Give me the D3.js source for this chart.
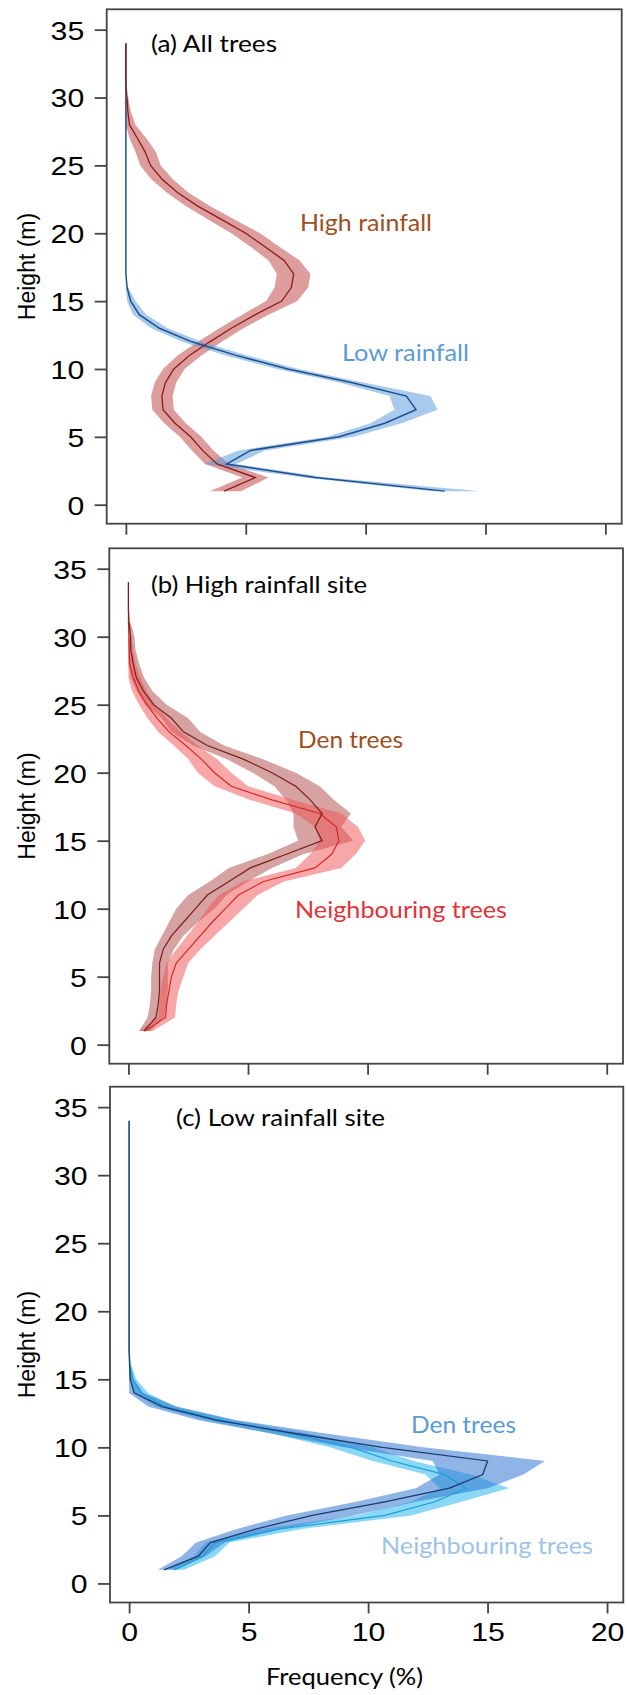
<!DOCTYPE html>
<html><head><meta charset="utf-8">
<script src="https://cdn.jsdelivr.net/npm/d3@7"></script>
<style>body{margin:0;background:#fff}</style>
</head><body>
<svg id="chart" width="627" height="1695"></svg>
<script>
// ---------- data (height in m, frequency in %) ----------
const heights = [1,2,3,4,5,6,7,8,9,10,11,12,13,14,15,16,17,18,19,20,21,22,23,24,25,26,27,28,29,30,31,32,33,34];
const xTicks = [0,5,10,15,20];
const yTicks = [0,5,10,15,20,25,30,35];

// (a) All trees
const aHighMean = [4.1,5.4,3.8,3.2,2.7,2.05,1.55,1.5,1.65,2.0,2.65,3.5,4.4,5.4,6.5,6.9,7.0,6.6,5.8,5.0,4.0,3.0,2.15,1.5,1.03,0.8,0.48,0.15,0.08,0.05,0,0,0,0];
const aHighLo   = [3.5,4.85,3.3,2.75,2.25,1.6,1.1,1.05,1.2,1.55,2.15,3.0,3.9,4.85,5.85,6.2,6.3,5.95,5.2,4.4,3.45,2.5,1.7,1.05,0.6,0.4,0.15,0,0,0,0,0,0,0];
const aHighHi   = [4.8,5.95,4.3,3.65,3.15,2.5,2.0,1.95,2.1,2.45,3.15,4.0,4.9,5.95,7.15,7.6,7.7,7.25,6.4,5.6,4.55,3.5,2.6,1.95,1.45,1.25,0.85,0.4,0.2,0.1,0,0,0,0];
const aLowMean  = [13.3,7.9,4.2,5.2,8.9,10.8,12.1,11.7,9.4,6.75,4.6,2.75,1.4,0.56,0.2,0.05,0,0,0,0,0,0,0,0,0,0,0,0,0,0,0,0,0,0];
const aLowLo    = [12.8,7.4,3.25,4.7,8.4,10.2,11.2,11.0,8.9,6.3,4.15,2.35,1.05,0.3,0.05,0,0,0,0,0,0,0,0,0,0,0,0,0,0,0,0,0,0,0];
const aLowHi    = [14.8,8.4,4.6,5.8,9.5,11.5,13.0,12.7,9.9,7.2,5.05,3.15,1.75,0.85,0.4,0.1,0,0,0,0,0,0,0,0,0,0,0,0,0,0,0,0,0,0];

// (b) High rainfall site
const bDenMean = [0.65,1.15,1.25,1.3,1.3,1.3,1.45,1.8,2.3,2.8,3.3,4.2,5.1,6.6,8.1,7.8,8.1,7.6,7.0,6.0,4.8,3.3,2.3,1.8,1.05,0.63,0.33,0.2,0.1,0.09,0.03,0,0,0];
const bDenLo   = [0.45,0.8,0.9,0.95,0.95,1.0,1.1,1.4,1.7,2.0,2.5,3.4,4.2,5.8,7.1,6.9,6.9,6.6,6.1,5.2,4.1,2.7,1.8,1.4,0.7,0.35,0.1,0,0,0,0,0,0,0];
const bDenHi   = [0.9,1.5,1.6,1.65,1.65,1.65,1.9,2.3,2.9,3.6,4.1,5.0,6.0,7.3,9.4,8.9,9.3,8.6,8.0,7.0,5.6,4.0,3.0,2.5,1.6,1.0,0.65,0.45,0.3,0.25,0.1,0,0,0];
const bNbMean  = [0.7,1.55,1.6,1.7,1.8,2.0,2.5,3.0,3.5,4.05,4.6,5.65,7.8,8.5,8.8,8.7,8.0,6.0,4.3,3.6,3.05,2.4,1.7,1.2,0.77,0.43,0.2,0.05,0.03,0.02,0,0,0,0];
const bNbLo    = [0.45,1.25,1.3,1.35,1.45,1.6,2.0,2.45,2.9,3.3,3.8,4.8,7.0,7.6,8.0,7.8,7.0,5.1,3.6,2.9,2.5,1.9,1.25,0.8,0.45,0.15,0,0,0,0,0,0,0,0];
const bNbHi    = [1.0,1.95,2.0,2.1,2.3,2.5,3.0,3.6,4.2,4.8,5.4,6.5,8.9,9.5,9.9,9.6,8.9,6.9,5.0,4.3,3.7,2.9,2.2,1.6,1.1,0.75,0.5,0.3,0.2,0.1,0,0,0,0];

// (c) Low rainfall site
const cDenMean = [1.46,2.9,3.4,5.3,7.66,10.7,13.4,14.8,15.0,10.6,7.0,3.64,1.38,0.21,0.05,0.02,0,0,0,0,0,0,0,0,0,0,0,0,0,0,0,0,0,0];
const cDenLo   = [1.2,2.2,2.8,4.5,6.6,9.5,12.0,13.0,12.7,9.0,6.0,2.9,0.8,0,0,0,0,0,0,0,0,0,0,0,0,0,0,0,0,0,0,0,0,0];
const cDenHi   = [1.9,3.2,4.0,6.4,9.4,12.0,15.0,16.5,17.4,12.3,8.3,4.5,2.0,0.6,0.2,0.05,0,0,0,0,0,0,0,0,0,0,0,0,0,0,0,0,0,0];
const cNbMean  = [1.9,3.1,3.6,6.3,10.7,12.8,14.1,13.2,11.0,9.3,6.8,3.8,1.5,0.5,0.15,0.05,0,0,0,0,0,0,0,0,0,0,0,0,0,0,0,0,0,0];
const cNbLo    = [1.6,2.7,3.2,5.5,9.5,11.8,13.0,12.4,10.2,8.4,6.0,3.2,1.1,0.2,0,0,0,0,0,0,0,0,0,0,0,0,0,0,0,0,0,0,0,0];
const cNbHi    = [2.3,3.6,4.2,7.2,11.8,13.9,15.9,14.3,11.9,10.2,7.6,4.4,1.9,0.8,0.3,0.1,0,0,0,0,0,0,0,0,0,0,0,0,0,0,0,0,0,0];

// ---------- layout / styles ----------
const xDomain = [-0.8, 20.68];
const yDomain = [-1.4, 36.5];
const panels = [
  { frame:{l:106.7,r:621.7,t:9.3,b:523.7},
    title:{text:"(a) All trees", x:151, y:52.3, w:126},
    series:[
      {mean:aHighMean, lo:aHighLo, hi:aHighHi, band:"rgba(190,60,60,0.5)", line:"#8b1c1c", lw:1.3},
      {mean:aLowMean, lo:aLowLo, hi:aLowHi, band:"rgba(80,150,220,0.5)", line:"#1f4e8c", lw:1.5}
    ],
    lineOrder:[1,0],
    labels:[
      {text:"High rainfall", x:300, y:230.7, w:132, color:"#9c4f22"},
      {text:"Low rainfall", x:342, y:361, w:127, color:"#5b9bd5"}
    ], xLabels:false },
  { frame:{l:109.3,r:623,t:548.3,b:1063.7},
    title:{text:"(b) High rainfall site", x:151, y:593.3, w:216},
    series:[
      {mean:bDenMean, lo:bDenLo, hi:bDenHi, band:"rgba(175,70,70,0.5)", line:"#7a1e1e", lw:1.2},
      {mean:bNbMean, lo:bNbLo, hi:bNbHi, band:"rgba(240,80,80,0.5)", line:"#d42a2a", lw:1.2}
    ],
    lineOrder:[1,0],
    labels:[
      {text:"Den trees", x:298, y:748.3, w:105, color:"#9c4f22"},
      {text:"Neighbouring trees", x:295, y:917.7, w:212, color:"#e0343a"}
    ], xLabels:false },
  { frame:{l:110,r:623.3,t:1086.7,b:1602.5},
    title:{text:"(c) Low rainfall site", x:176, y:1126, w:209},
    series:[
      {mean:cNbMean, lo:cNbLo, hi:cNbHi, band:"rgba(60,190,240,0.6)", line:"#1a9fd6", lw:1.2},
      {mean:cDenMean, lo:cDenLo, hi:cDenHi, band:"rgba(50,120,210,0.55)", line:"#1f3a6e", lw:1.3}
    ],
    lineOrder:[0,1],
    labels:[
      {text:"Den trees", x:411, y:1433.3, w:105, color:"#5b9bd5"},
      {text:"Neighbouring trees", x:381, y:1554, w:212, color:"#9dc3e6"}
    ], xLabels:true }
];

const svg = d3.select("#chart");
svg.append("rect").attr("width",627).attr("height",1695).attr("fill","#fff");

const axisColor = "#444";
const tickFont = "'Liberation Sans', Arial, sans-serif";
const textFont = "Lato, 'Open Sans', sans-serif";

panels.forEach(p => {
  const f = p.frame;
  const x = d3.scaleLinear().domain(xDomain).range([f.l, f.r]);
  const y = d3.scaleLinear().domain(yDomain).range([f.b, f.t]);
  const g = svg.append("g");

  const rows = s => heights.map((h,i) => ({h, m:s.mean[i], lo:s.lo[i], hi:s.hi[i]}));
  const area = d3.area().y(d => y(d.h)).x0(d => x(d.lo)).x1(d => x(d.hi));
  const line = d3.line().x(d => x(d.m)).y(d => y(d.h));

  p.series.forEach(s => {
    g.append("path").datum(rows(s).filter(d => d.hi > 0 || d.lo > 0))
      .attr("d", area).attr("fill", s.band).attr("stroke","none");
  });
  p.lineOrder.forEach(k => {
    const s = p.series[k];
    g.append("path").datum(rows(s)).attr("d", line)
      .attr("fill","none").attr("stroke", s.line).attr("stroke-width", s.lw);
  });

  // frame
  g.append("rect").attr("x", f.l).attr("y", f.t).attr("width", f.r - f.l).attr("height", f.b - f.t)
    .attr("fill","none").attr("stroke", axisColor).attr("stroke-width", 1.8);

  // y axis
  const ya = g.append("g").attr("transform", `translate(${f.l},0)`)
    .call(d3.axisLeft(y).tickValues(yTicks).tickSize(12).tickPadding(10.5).tickFormat(d3.format("d")));
  ya.select(".domain").remove();
  ya.selectAll(".tick line").attr("stroke", axisColor).attr("stroke-width", 1.8);
  ya.selectAll(".tick text").attr("font-family", tickFont).attr("font-size", 26).attr("fill","#000")
    .attr("dy","0.36em")
    .attr("textLength", d => String(d).length * 16.8).attr("lengthAdjust","spacingAndGlyphs");

  // x axis
  const xa = g.append("g").attr("transform", `translate(0,${f.b})`)
    .call(d3.axisBottom(x).tickValues(xTicks).tickSize(11).tickPadding(9).tickFormat(p.xLabels ? d3.format("d") : ""));
  xa.select(".domain").remove();
  xa.selectAll(".tick line").attr("stroke", axisColor).attr("stroke-width", 1.8);
  xa.selectAll(".tick text").attr("font-family", tickFont).attr("font-size", 26).attr("fill","#000")
    .attr("dy","0.71em")
    .attr("textLength", d => String(d).length * 16.8).attr("lengthAdjust","spacingAndGlyphs");

  // y title
  g.append("text").attr("transform", `translate(27,${(f.t + f.b)/2}) rotate(-90)`)
    .attr("text-anchor","middle").attr("dominant-baseline","central")
    .attr("font-family", tickFont).attr("font-size", 23).attr("fill","#000")
    .text("Height (m)");

  // panel title
  g.append("text").attr("x", p.title.x).attr("y", p.title.y)
    .attr("font-family", textFont).attr("font-size", 23).attr("fill","#000")
    .attr("textLength", p.title.w).attr("lengthAdjust","spacingAndGlyphs")
    .text(p.title.text);

  p.labels.forEach(l => {
    g.append("text").attr("x", l.x).attr("y", l.y)
      .attr("font-family", textFont).attr("font-size", 23).attr("fill", l.color)
      .attr("textLength", l.w).attr("lengthAdjust","spacingAndGlyphs")
      .text(l.text);
  });
});

svg.append("text").attr("x", 266).attr("y", 1685)
  .attr("font-family", textFont).attr("font-size", 23).attr("fill","#000")
  .attr("textLength", 157).attr("lengthAdjust","spacingAndGlyphs")
  .text("Frequency (%)");
</script>
</body></html>
